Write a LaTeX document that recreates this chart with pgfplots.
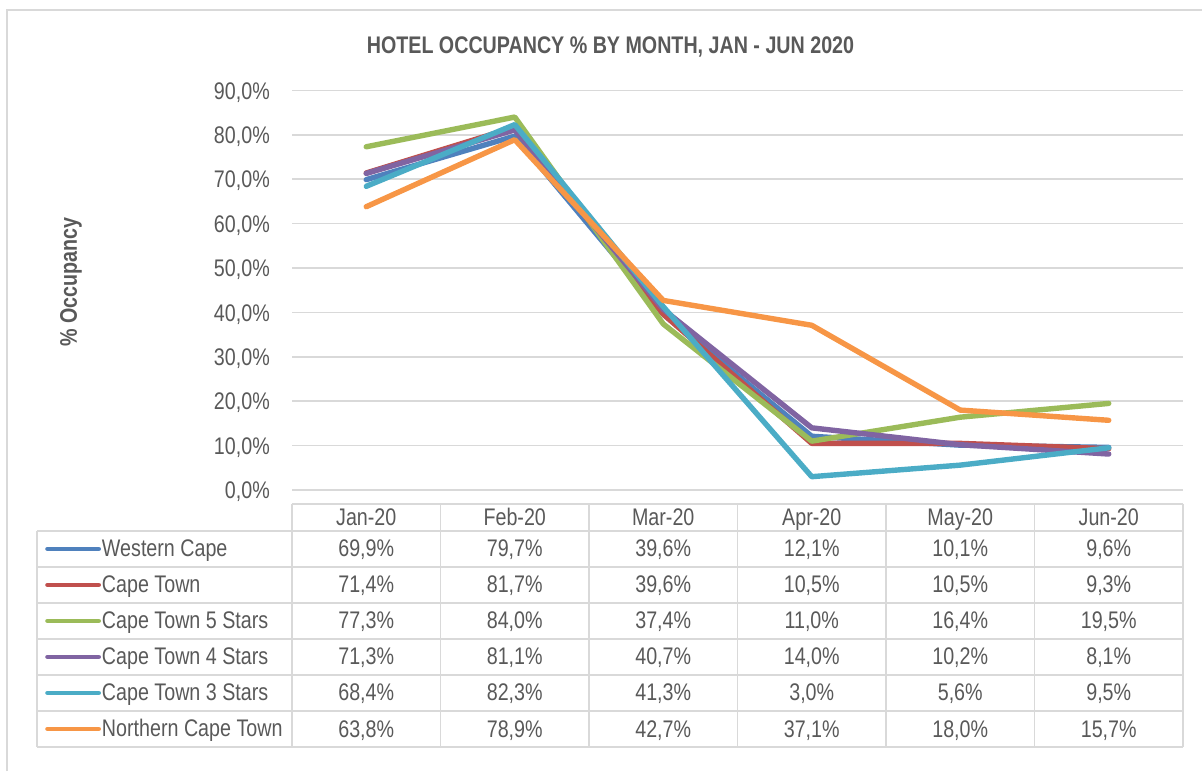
\documentclass[border=0pt]{standalone}
\usepackage{fontspec}
\setmainfont{Liberation Sans}[FakeStretch=0.82]
\usepackage{pgfplots}
\pgfplotsset{compat=1.18}
\definecolor{txt}{HTML}{595959}
\definecolor{grd}{HTML}{D9D9D9}
\definecolor{cBlue}{HTML}{4F81BD}
\definecolor{cRed}{HTML}{C0504D}
\definecolor{cGreen}{HTML}{9BBB59}
\definecolor{cPurple}{HTML}{8064A2}
\definecolor{cAqua}{HTML}{4BACC6}
\definecolor{cOrange}{HTML}{F79646}
\newcommand{\f}{\fontsize{24}{28}\selectfont}
% one table cell: column, baseline, text
\newcommand{\cell}[3]{\node[anchor=base, font=\f, text=txt, inner sep=0pt] at ({366.25+148.5*#1},#2) {#3};}
\newcommand{\trow}[7]{\cell{0}{#1}{#2}\cell{1}{#1}{#3}\cell{2}{#1}{#4}\cell{3}{#1}{#5}\cell{4}{#1}{#6}\cell{5}{#1}{#7}}
\begin{document}
\begin{tikzpicture}[x=1pt,y=1pt]
\useasboundingbox (0,0) rectangle (1202,771);
\draw[grd, line width=1.5pt] (7,0) -- (7,761) -- (1202,761);
\node[anchor=base, font=\f\bfseries, text=txt, inner sep=0pt] at (610.5,717.7) {HOTEL OCCUPANCY \% BY MONTH, JAN - JUN 2020};
\node[rotate=90, font=\f\bfseries, text=txt, inner sep=0pt] at (71,489) {\% Occupancy};

% data table grid
\begin{scope}[grd, line width=1.5pt]
  \draw (292,267) -- (1183,267);
  \foreach \y in {240,204,168,132,96,60,24} \draw (37,\y) -- (1183,\y);
  \foreach \x in {292,440.5,589,737.5,886,1034.5,1183} \draw (\x,267) -- (\x,24);
  \draw (37,240) -- (37,24);
\end{scope}

\begin{axis}[
    at={(292pt,281pt)}, anchor=south west,
    scale only axis, width=891pt, height=399.6pt,
    xmin=-0.5, xmax=5.5, ymin=0, ymax=90,
    xtick={0,...,5},
    xticklabels={Jan-20,Feb-20,Mar-20,Apr-20,May-20,Jun-20},
    ytick={0,10,...,90},
    yticklabels={{0,0\%},{10,0\%},{20,0\%},{30,0\%},{40,0\%},{50,0\%},{60,0\%},{70,0\%},{80,0\%},{90,0\%}},
    axis line style={draw=none}, tick style={draw=none},
    ymajorgrids, grid style={grd, line width=1.5pt},
    tick label style={font=\f, text=txt, inner sep=0pt},
    xticklabel style={anchor=base, yshift=-35pt},
    yticklabel style={anchor=east, xshift=-22pt, text height=17.2pt, text depth=0pt},
    clip=false,
    legend style={at={(-0.27722,-0.1019)}, anchor=north west, draw=none, fill=none,
        inner sep=0pt, row sep=0pt, font=\f, text=txt,
        nodes={inner sep=0pt, text height=26pt, text depth=10pt, anchor=west}},
    legend cell align=left,
    /tikz/every odd column/.append style={column sep=1pt},
    legend image code/.code={\draw[#1, line width=4.8pt, line cap=round] (0pt,0pt) -- (51pt,0pt);},
    every axis plot/.append style={line width=5.4pt, line join=round, line cap=round, no markers},
]
\addplot[cBlue] coordinates {(0,69.9) (1,79.7) (2,39.6) (3,12.1) (4,10.1) (5,9.6)};
\addlegendentry{Western Cape}
\addplot[cRed] coordinates {(0,71.4) (1,81.7) (2,39.6) (3,10.5) (4,10.5) (5,9.3)};
\addlegendentry{Cape Town}
\addplot[cGreen] coordinates {(0,77.3) (1,84.0) (2,37.4) (3,11.0) (4,16.4) (5,19.5)};
\addlegendentry{Cape Town 5 Stars}
\addplot[cPurple] coordinates {(0,71.3) (1,81.1) (2,40.7) (3,14.0) (4,10.2) (5,8.1)};
\addlegendentry{Cape Town 4 Stars}
\addplot[cAqua] coordinates {(0,68.4) (1,82.3) (2,41.3) (3,3.0) (4,5.6) (5,9.5)};
\addlegendentry{Cape Town 3 Stars}
\addplot[cOrange] coordinates {(0,63.8) (1,78.9) (2,42.7) (3,37.1) (4,18.0) (5,15.7)};
\addlegendentry{Northern Cape Town}
\end{axis}

% data table values
\trow{214}{69,9\%}{79,7\%}{39,6\%}{12,1\%}{10,1\%}{9,6\%}
\trow{178}{71,4\%}{81,7\%}{39,6\%}{10,5\%}{10,5\%}{9,3\%}
\trow{142}{77,3\%}{84,0\%}{37,4\%}{11,0\%}{16,4\%}{19,5\%}
\trow{106}{71,3\%}{81,1\%}{40,7\%}{14,0\%}{10,2\%}{8,1\%}
\trow{70}{68,4\%}{82,3\%}{41,3\%}{3,0\%}{5,6\%}{9,5\%}
\trow{34}{63,8\%}{78,9\%}{42,7\%}{37,1\%}{18,0\%}{15,7\%}
\end{tikzpicture}
\end{document}
